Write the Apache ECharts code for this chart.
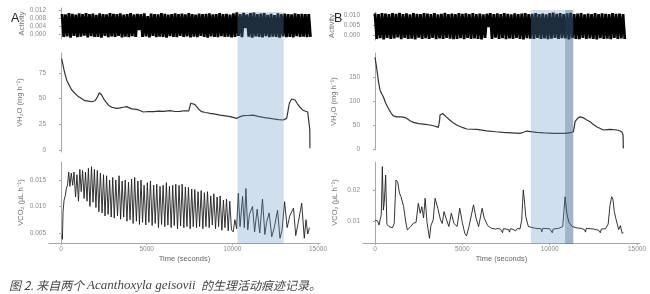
<!DOCTYPE html>
<html><head><meta charset="utf-8">
<script src="https://cdn.jsdelivr.net/npm/echarts@6/dist/echarts.min.js"></script>
<style>html,body{margin:0;padding:0;background:#fff}#c{width:650px;height:294px}</style>
</head><body><div id="c"></div>
<script>
// ---------- data ----------
var timeTicks = [0, 5000, 10000, 15000];
var actTicksA = [0, 0.004, 0.008, 0.012];
var actTicksB = [0, 0.005, 0.010];
var vh2oTicksA = [0, 25, 50, 75];
var vh2oTicksB = [0, 50, 100, 150];
var vco2TicksA = [0.005, 0.010, 0.015];
var vco2TicksB = [0.01, 0.02];

var shadeA = [10300, 13000];
var shadeB = [8930, 11350];
var shadeBDark = [10880, 11350];

// activity: sampled every 100 s, alternating high / low readings
var actStartA = 60, actStartB = 0, actStep = 100;
var actHiA = [0.0100,0.0098,0.0104,0.0101,0.0097,0.0103,0.0100,0.0105,0.0099,0.0102,
0.0096,0.0103,0.0100,0.0098,0.0104,0.0101,0.0099,0.0103,0.0097,0.0100,
0.0105,0.0098,0.0101,0.0099,0.0103,0.0090,0.0102,0.0100,0.0098,0.0104,
0.0101,0.0097,0.0100,0.0103,0.0099,0.0102,0.0098,0.0104,0.0100,0.0097,
0.0102,0.0099,0.0101,0.0103,0.0098,0.0100,0.0104,0.0099,0.0101,0.0097,
0.0103,0.0108,0.0100,0.0106,0.0098,0.0104,0.0107,0.0099,0.0102,0.0105,
0.0096,0.0101,0.0095,0.0103,0.0099,0.0102,0.0100,0.0098,0.0103,0.0100,
0.0101,0.0099,0.0100];
var actLoA = [-0.0015,-0.0012,-0.0018,-0.0010,-0.0016,-0.0013,-0.0008,-0.0017,-0.0011,-0.0015,
-0.0014,-0.0018,-0.0009,-0.0016,-0.0012,-0.0015,-0.0010,-0.0017,-0.0013,-0.0016,
-0.0011,-0.0014,0.0020,-0.0015,-0.0012,-0.0017,-0.0010,-0.0016,-0.0013,-0.0015,
-0.0018,-0.0011,-0.0014,-0.0016,-0.0009,-0.0015,-0.0012,-0.0017,-0.0013,-0.0016,
-0.0010,-0.0015,-0.0018,-0.0012,-0.0014,-0.0016,-0.0011,-0.0015,-0.0013,-0.0017,
-0.0014,-0.0010,-0.0016,0.0030,-0.0013,-0.0018,-0.0012,-0.0015,-0.0017,-0.0011,
-0.0016,-0.0013,-0.0015,-0.0018,-0.0012,-0.0016,-0.0014,-0.0017,-0.0011,-0.0015,
-0.0013,-0.0016,-0.0014];
var actHiB = [0.0108,0.0105,0.0110,0.0107,0.0104,0.0109,0.0106,0.0111,0.0105,0.0108,
0.0103,0.0109,0.0106,0.0104,0.0110,0.0107,0.0105,0.0109,0.0103,0.0106,
0.0111,0.0104,0.0107,0.0105,0.0109,0.0106,0.0108,0.0104,0.0110,0.0105,
0.0107,0.0103,0.0106,0.0109,0.0105,0.0108,0.0104,0.0110,0.0106,0.0103,
0.0108,0.0105,0.0107,0.0109,0.0104,0.0106,0.0110,0.0105,0.0107,0.0103,
0.0109,0.0112,0.0106,0.0110,0.0104,0.0108,0.0111,0.0105,0.0107,0.0109,
0.0103,0.0107,0.0104,0.0109,0.0105,0.0108,0.0106,0.0104,0.0109,0.0106,
0.0107,0.0105];
var actLoB = [-0.0020,-0.0016,-0.0022,-0.0014,-0.0019,-0.0017,-0.0012,-0.0021,-0.0015,-0.0019,
-0.0018,-0.0022,-0.0013,-0.0020,-0.0016,-0.0019,-0.0014,-0.0021,-0.0017,-0.0020,
-0.0015,-0.0018,-0.0021,-0.0019,-0.0016,-0.0021,-0.0014,-0.0020,-0.0017,-0.0019,
-0.0022,-0.0015,0.0040,-0.0020,-0.0013,-0.0019,-0.0016,-0.0021,-0.0017,-0.0020,
-0.0014,-0.0019,-0.0022,-0.0016,-0.0018,-0.0020,-0.0015,-0.0019,-0.0017,-0.0021,
-0.0018,-0.0014,-0.0020,-0.0016,-0.0017,-0.0022,-0.0016,-0.0019,-0.0021,-0.0015,
-0.0020,-0.0017,-0.0019,-0.0022,-0.0016,-0.0020,-0.0018,-0.0021,-0.0015,-0.0019,
-0.0017,-0.0020];

var vh2oA = [[40,89],[175,78],[330,68],[625,58.4],[1010,52],[1400,48],[1600,47.5],[1790,47],[1985,48],[2140,52],[2235,55.8],[2375,53.6],[2520,49],[2665,46],[2810,43],[2960,41.6],[3250,40.6],[3450,41],[3640,41.6],[3830,42.2],[4125,40],[4420,39.6],[4600,38.5],[4805,37],[5100,37.5],[5390,37.3],[5700,37.8],[5970,37.6],[6360,38.3],[6650,37.5],[6945,37.6],[7200,38.2],[7460,38],[7570,45.5],[7665,47],[7800,44.5],[7920,42.2],[8050,39.5],[8210,37.3],[8450,36.5],[8700,35.7],[9000,35],[9280,34],[9600,33.3],[9865,32.5],[10100,31.5],[10255,30.8],[10450,32.5],[10640,33.4],[10900,33.6],[11225,34],[11500,32.8],[11810,31.8],[12100,31],[12390,30.2],[12700,29.5],[12975,29.2],[13170,30.8],[13250,38],[13325,45.5],[13465,49.7],[13660,48.7],[13800,45],[13950,41.6],[14100,39],[14240,38],[14400,37],[14490,35.7],[14520,20],[14530,1.6]];

var vh2oB = [[0,191],[70,175],[134,158],[200,140],[286,123],[380,115],[477,109],[620,95],[763,85],[900,76],[1050,69],[1250,67],[1527,67],[1680,66],[1813,64],[2000,59],[2195,55.6],[2500,53],[2767,52],[3150,50],[3400,48],[3627,45],[3700,60],[3722,71],[3875,74],[4050,68],[4294,60],[4500,54],[4676,50],[5000,45],[5250,41.7],[5822,41],[6394,38],[6900,36],[7346,34.7],[8300,32.6],[8500,35],[8685,37.5],[9258,34.7],[9700,33.5],[10208,32.6],[10877,32.6],[11200,34],[11354,36],[11420,48],[11450,57],[11600,64],[11736,67],[11927,65],[12100,61],[12309,57],[12500,51],[12691,46.5],[13073,39.6],[13300,40.5],[13454,41],[13836,39.6],[14000,38],[14122,36],[14200,30],[14218,1.4]];

var vco2A = [[60,0.0045],[80,0.0038],[120,0.0090],[180,0.0112],[250,0.0120],[320,0.0135],[380,0.0140],
[450,0.0165],[520,0.0138],[600,0.0163],[680,0.0140],[760,0.0165],[850,0.0118],[930,0.0160],[1020,0.0110],[1100,0.0170],[1180,0.0128],[1260,0.0168],[1350,0.0115],[1430,0.0165],[1520,0.0110],[1600,0.0172],[1690,0.0100],[1780,0.0175],[1870,0.0108],[1950,0.0170],[2040,0.0098],[2120,0.0168],[2210,0.0090],[2300,0.0163],[2400,0.0088],[2480,0.0160],[2570,0.0082],[2660,0.0158],[2750,0.0085],[2840,0.0150],[2930,0.0080],[3020,0.0155],[3110,0.0078],[3200,0.0150],[3300,0.0082],[3390,0.0158],[3480,0.0076],[3570,0.0148],[3660,0.0080],[3750,0.0150],[3850,0.0072],[3940,0.0146],[4030,0.0075],[4120,0.0152],[4210,0.0068],[4300,0.0155],[4400,0.0072],[4490,0.0148],[4580,0.0066],[4670,0.0150],[4760,0.0070],[4850,0.0140],[4950,0.0065],[5040,0.0145],[5130,0.0070],[5220,0.0148],[5320,0.0064],[5410,0.0140],[5500,0.0068],[5590,0.0142],[5690,0.0060],[5780,0.0138],[5870,0.0066],[5960,0.0140],[6060,0.0062],[6150,0.0145],[6240,0.0065],[6330,0.0138],[6430,0.0060],[6520,0.0140],[6610,0.0064],[6700,0.0142],[6800,0.0058],[6890,0.0140],[6980,0.0063],[7070,0.0142],[7170,0.0060],[7260,0.0137],[7350,0.0062],[7440,0.0136],[7540,0.0058],[7630,0.0133],[7720,0.0062],[7810,0.0132],[7910,0.0060],[8000,0.0128],[8090,0.0062],[8180,0.0130],[8280,0.0058],[8370,0.0126],[8460,0.0062],[8550,0.0128],[8650,0.0060],[8740,0.0120],[8830,0.0065],[8920,0.0124],[9020,0.0058],[9110,0.0118],[9200,0.0062],[9290,0.0120],[9390,0.0055],[9480,0.0112],[9570,0.0060],[9660,0.0114],[9760,0.0054],[9850,0.0110],[9950,0.0056],[10050,0.0052],[10150,0.0075],[10250,0.0058],[10350,0.0125],[10450,0.0062],[10600,0.0119],[10700,0.0060],[10790,0.0134],[10900,0.0056],[11000,0.0085],[11180,0.0100],[11300,0.0052],[11450,0.0095],[11600,0.0050],[11760,0.0114],[11900,0.0047],[12000,0.0070],[12150,0.0088],[12300,0.0043],[12450,0.0060],[12640,0.0093],[12780,0.0040],[12900,0.0055],[13050,0.0109],[13200,0.0060],[13350,0.0082],[13570,0.0097],[13700,0.0045],[13850,0.0070],[14050,0.0106],[14200,0.0040],[14300,0.0075],[14400,0.0048],[14500,0.0060]];

var vco2B = [[0,0.0103],[60,0.0108],[150,0.0100],[230,0.0087],[290,0.0088],[360,0.0120],[420,0.0275],[480,0.0135],[530,0.0160],[610,0.0248],[680,0.0090],[800,0.0082],[900,0.0079],[1000,0.0078],[1100,0.0092],[1200,0.0232],[1300,0.0225],[1400,0.0190],[1490,0.0178],[1640,0.0146],[1750,0.0100],[1850,0.0071],[1950,0.0065],[2050,0.0082],[2200,0.0093],[2350,0.0095],[2480,0.0157],[2590,0.0125],[2680,0.0146],[2780,0.0110],[2870,0.0173],[2980,0.0095],[3120,0.0044],[3200,0.0085],[3330,0.0103],[3440,0.0173],[3510,0.0170],[3600,0.0140],[3750,0.0103],[3850,0.0092],[3950,0.0130],[4100,0.0103],[4230,0.0082],[4370,0.0125],[4520,0.0092],[4700,0.0082],[4850,0.0141],[5000,0.0095],[5140,0.0060],[5240,0.0052],[5380,0.0082],[5640,0.0152],[5780,0.0110],[5930,0.0082],[6135,0.0141],[6250,0.0110],[6450,0.0085],[6670,0.0076],[6900,0.0074],[7000,0.0070],[7050,0.0076],[7200,0.0073],[7300,0.0062],[7350,0.0075],[7500,0.0074],[7650,0.0072],[7700,0.0064],[7750,0.0075],[7900,0.0073],[8050,0.0068],[8150,0.0076],[8300,0.0074],[8400,0.0103],[8450,0.0160],[8490,0.0200],[8580,0.0150],[8630,0.0114],[8680,0.0108],[8780,0.0082],[8870,0.0078],[9200,0.0076],[9500,0.0075],[9550,0.0065],[9600,0.0076],[10000,0.0075],[10150,0.0062],[10200,0.0074],[10500,0.0076],[10750,0.0082],[10880,0.0178],[10980,0.0125],[11100,0.0095],[11300,0.0082],[11510,0.0078],[11800,0.0076],[12000,0.0072],[12050,0.0064],[12100,0.0076],[12500,0.0074],[12800,0.0070],[12900,0.0062],[12950,0.0074],[13200,0.0075],[13350,0.0090],[13450,0.0150],[13550,0.0178],[13620,0.0170],[13700,0.0130],[13780,0.0110],[13870,0.0090],[13950,0.0072],[14050,0.0085],[14150,0.0060],[14220,0.0062]];

// ---------- build ----------
function actSeries(start, hi, lo) {
  var out = [];
  for (var i = 0; i < hi.length; i++) {
    out.push([start + 2 * i * actStep, hi[i]]);
    out.push([start + (2 * i + 1) * actStep, lo[i]]);
  }
  return out;
}
var FONT = 'Liberation Sans';
var AX = '#a8a8a8', LAB = '#8a8a8a';
function fmt3(v) { return v.toFixed(3); }
function fmt2(v) { return v.toFixed(2); }
function fmt0(v) { return String(v); }
function yAx(gi, min, max, ticks, fmt, name, gap) {
  return {type:'value', gridIndex:gi, min:min, max:max, name:name, nameLocation:'middle', nameGap:gap,
    nameTextStyle:{fontSize:7.5, color:'#777', fontFamily:FONT},
    axisLine:{show:true, lineStyle:{color:AX, width:1}},
    axisTick:{show:true, length:2, lineStyle:{color:AX}, customValues:ticks},
    axisLabel:{show:true, customValues:ticks, formatter:fmt, fontSize:6.5, color:LAB, margin:3, fontFamily:FONT},
    splitLine:{show:false}};
}
function xAx(gi, min, max, show) {
  var o = {type:'value', gridIndex:gi, min:min, max:max, show:show, splitLine:{show:false}};
  if (show) {
    o.name = 'Time (seconds)'; o.nameLocation = 'middle'; o.nameGap = 12;
    o.nameTextStyle = {fontSize:7.5, color:'#666', fontFamily:FONT};
    o.axisLine = {show:true, lineStyle:{color:AX, width:1}};
    o.axisTick = {show:true, length:2, lineStyle:{color:AX}, customValues:timeTicks};
    o.axisLabel = {customValues:timeTicks, formatter:fmt0, fontSize:6.5, color:LAB, margin:3, fontFamily:FONT};
  }
  return o;
}
function shadeRender(color) {
  return function (params, api) {
    var p0 = api.coord([api.value(0), 1]);
    var p1 = api.coord([api.value(1), 0]);
    return {type:'rect', shape:{x:p0[0], y:p0[1], width:p1[0]-p0[0], height:p1[1]-p0[1]}, style:{fill:color}};
  };
}
function line(xi, yi, data, color, w, z) {
  return {type:'line', xAxisIndex:xi, yAxisIndex:yi, data:data, symbol:'none', silent:true, animation:false,
    lineStyle:{color:color, width:w, join:'bevel'}, z:z || 2};
}
var XA = [-700, 15117], XB = [-687, 15171];

var option = {
  animation:false,
  title:[
    {text:'A', left:6, top:7, textStyle:{fontSize:12.5, fontWeight:'normal', color:'#222', fontFamily:FONT}},
    {text:'B', left:329, top:7, textStyle:{fontSize:12.5, fontWeight:'normal', color:'#222', fontFamily:FONT}},
    {text:'{c|图 2. 来自两个 }{l|Acanthoxyla geisovii}{c|  的生理活动痕迹记录。}', left:4, top:274,
     textStyle:{fontWeight:'normal', rich:{
       c:{fontFamily:'Noto Sans CJK SC', fontStyle:'italic', fontWeight:'normal', fontSize:12, color:'#444'},
       l:{fontFamily:'Liberation Serif', fontStyle:'italic', fontWeight:'normal', fontSize:13, color:'#444'}}}}
  ],
  grid:[
    {left:49, top:8, width:271, height:31},
    {left:49, top:53, width:271, height:99},
    {left:49, top:162, width:271, height:81},
    {left:363, top:12, width:277, height:28},
    {left:363, top:53, width:277, height:97},
    {left:363, top:162, width:277, height:81},
    {left:49, top:12, width:271, height:232},
    {left:363, top:10, width:277, height:234}
  ],
  xAxis:[
    xAx(0, XA[0], XA[1], false), xAx(1, XA[0], XA[1], false), xAx(2, XA[0], XA[1], true),
    xAx(3, XB[0], XB[1], false), xAx(4, XB[0], XB[1], false), xAx(5, XB[0], XB[1], true),
    xAx(6, XA[0], XA[1], false), xAx(7, XB[0], XB[1], false)
  ],
  yAxis:[
    yAx(0, -0.0025, 0.013, actTicksA, fmt3, 'Activity', 21),
    yAx(1, -2, 94.5, vh2oTicksA, fmt0, 'VH\u2082O (mg h\u207B\u00B9)', 25),
    yAx(2, 0.0031, 0.0184, vco2TicksA, fmt3, 'VCO\u2082 (\u03BCL h\u207B\u00B9)', 24),
    yAx(3, -0.0025, 0.0115, actTicksB, fmt3, 'Activity', 27),
    yAx(4, -2, 200, vh2oTicksB, fmt0, 'VH\u2082O (mg h\u207B\u00B9)', 25),
    yAx(5, 0.0029, 0.029, vco2TicksB, fmt2, 'VCO\u2082 (\u03BCL h\u207B\u00B9)', 24),
    {type:'value', gridIndex:6, min:0, max:1, show:false},
    {type:'value', gridIndex:7, min:0, max:1, show:false}
  ],
  series:[
    line(0, 0, actSeries(actStartA, actHiA, actLoA), '#000', 2.8),
    line(1, 1, vh2oA, '#333', 1.2),
    line(2, 2, vco2A, '#1e1e1e', 0.9),
    line(3, 3, actSeries(actStartB, actHiB, actLoB), '#000', 2.8),
    line(4, 4, vh2oB, '#333', 1.2),
    line(5, 5, vco2B, '#1e1e1e', 0.9),
    {type:'custom', xAxisIndex:6, yAxisIndex:6, data:[shadeA], renderItem:shadeRender('rgba(100,150,200,0.3)'), z:10, silent:true},
    {type:'custom', xAxisIndex:7, yAxisIndex:7, data:[shadeB], renderItem:shadeRender('rgba(100,150,200,0.3)'), z:10, silent:true},
    {type:'custom', xAxisIndex:7, yAxisIndex:7, data:[shadeBDark], renderItem:shadeRender('rgba(40,70,100,0.28)'), z:11, silent:true}
  ]
};
var chart = echarts.init(document.getElementById('c'), null, {renderer:'canvas'});
chart.setOption(option);
</script></body></html>
